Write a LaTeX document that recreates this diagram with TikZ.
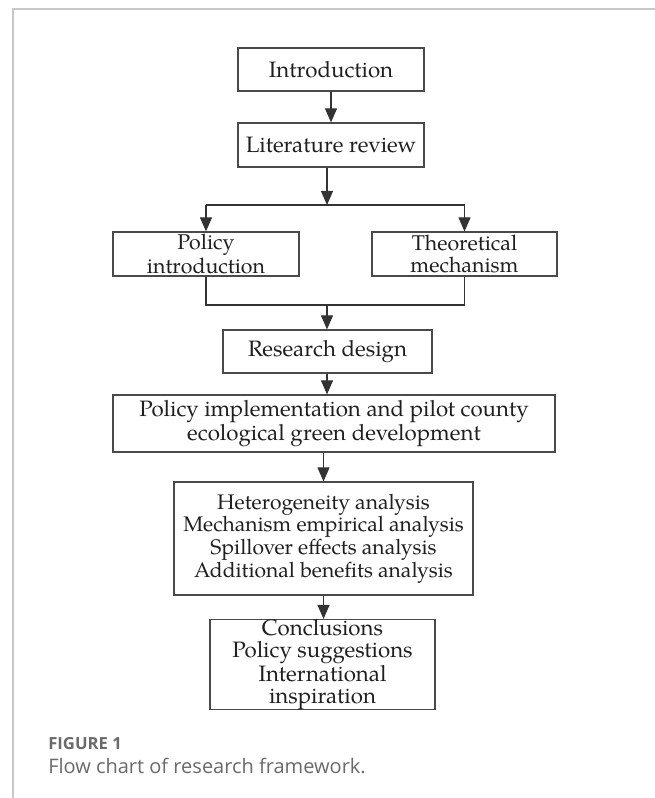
\documentclass[tikz,border=0pt]{standalone}
\usepackage{fontspec}
\setmainfont{Open Sans}
\newfontfamily\pala[Extension=.otf,UprightFont=*-regular,BoldFont=*-bold]{texgyrepagella}
\usetikzlibrary{arrows.meta}
\definecolor{framegray}{HTML}{C8C8C8}
\definecolor{boxgray}{HTML}{4A4A4A}
\definecolor{linegray}{HTML}{333333}
\definecolor{capgray}{HTML}{6A6A6A}
\tikzset{
  box/.style={draw=boxgray, line width=0.9pt, fill=white, text=black!88,
    align=center, inner sep=0pt, anchor=center,
    font=\pala\fontsize{16.7}{16.6}\selectfont},
  conn/.style={draw=linegray, line width=0.8pt},
  arr/.style={conn, -{Triangle[length=10.5pt,width=9pt]}},
  captxt/.style={anchor=base west, inner sep=0pt, text=capgray}
}
\begin{document}
\begin{tikzpicture}[x=0.75pt,y=-0.75pt]
\useasboundingbox (0,0) rectangle (655,798);
\fill[white] (0,0) rectangle (655,798);
\draw[framegray, line width=1.1pt] (655,9) -- (13,9) -- (13,798);

\node[box, minimum width=139.5pt, minimum height=32.25pt] (intro) at (331,69.5) {Introduction};
\node[box, minimum width=139.5pt, minimum height=33pt] (lit) at (331,145) {Literature review};
\node[box, minimum width=139.5pt, minimum height=33pt, font=\pala\fontsize{16}{17.5}\selectfont] (policy) at (206,254) {Policy\\introduction};
\node[box, minimum width=138.75pt, minimum height=33pt, font=\pala\fontsize{16}{17}\selectfont] (theo) at (464.5,254) {Theoretical\\mechanism};
\node[box, minimum width=156.75pt, minimum height=32.25pt] (research) at (327.5,351.5) {Research design};
\node[box, minimum width=331.5pt, minimum height=42.75pt] (impl) at (334,423.5) {Policy implementation and pilot county\\ecological green development};
\node[box, minimum width=224.25pt, minimum height=84.75pt, font=\pala\fontsize{15.8}{15.2}\selectfont] (analysis) at (323.5,538.5) {Heterogeneity analysis\\Mechanism empirical analysis\\Spillover effects analysis\\Additional benefits analysis};
\node[box, minimum width=168.75pt, minimum height=65.25pt, font=\pala\fontsize{16.7}{16.4}\selectfont] (concl) at (322.5,664.5) {Conclusions\\Policy suggestions\\International\\inspiration};

\coordinate (split) at (327,205);
\coordinate (merge) at (327,305);

\draw[arr] (intro.south) -- (intro.south |- lit.north);
\draw[arr] (split |- lit.south) -- (split);
\draw[conn] (policy.north |- split) -- (theo.north |- split);
\draw[arr] (policy.north |- split) -- (policy.north);
\draw[arr] (theo.north |- split) -- (theo.north);
\draw[conn] (policy.south) -- (policy.south |- merge) -- (theo.south |- merge) -- (theo.south);
\draw[arr] (merge) -- (merge |- research.north);
\draw[arr] (merge |- research.south) -- (merge |- impl.north);
\draw[arr] (analysis.north |- impl.south) -- (analysis.north);
\draw[arr] (analysis.south) -- (analysis.south |- concl.north);

\node[captxt, font=\fontsize{12.5}{14}\selectfont\bfseries] (fig) at (48,749) {FIGURE 1};
\node[captxt, font=\fontsize{15}{17}\selectfont] (cap) at (48,773) {Flow chart of research framework.};
\end{tikzpicture}
\end{document}
